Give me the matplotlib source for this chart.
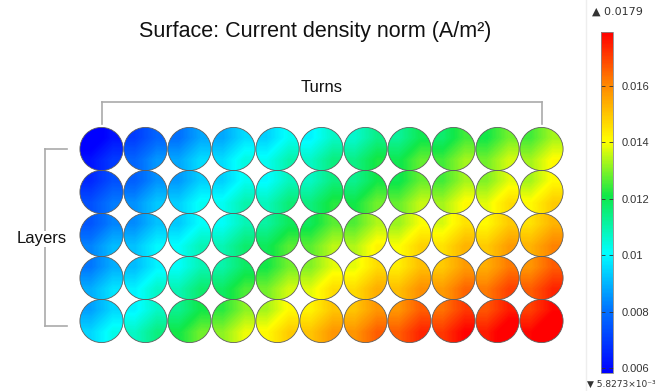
import matplotlib
matplotlib.use("Agg")
import matplotlib.pyplot as plt
from matplotlib.patches import Circle
from matplotlib.colors import Normalize, LinearSegmentedColormap
from matplotlib.cm import ScalarMappable

plt.rcParams['font.family'] = ['Liberation Sans', 'DejaVu Sans']

# current density at each conductor (rows = layers, cols = turns), A/m^2
layer_1 = [0.0062, 0.0078, 0.0088, 0.0096, 0.0102, 0.0107, 0.0114, 0.0120, 0.0125, 0.0129, 0.0133]
layer_2 = [0.0074, 0.0085, 0.0094, 0.0102, 0.0108, 0.0115, 0.0121, 0.0128, 0.0133, 0.0138, 0.0141]
layer_3 = [0.0083, 0.0092, 0.0101, 0.0109, 0.0119, 0.0127, 0.0134, 0.0140, 0.0145, 0.0149, 0.0153]
layer_4 = [0.0089, 0.0099, 0.0109, 0.0118, 0.0129, 0.0138, 0.0146, 0.0151, 0.0157, 0.0162, 0.0166]
layer_5 = [0.0095, 0.0107, 0.0121, 0.0131, 0.0141, 0.0150, 0.0158, 0.0166, 0.0171, 0.0175, 0.0178]
layers = [layer_1, layer_2, layer_3, layer_4, layer_5]

# variation across a single conductor (low at upper left, high at lower right)
spread = 0.0008

j_min = 0.0058273
j_max = 0.0179
cbar_ticks = [0.006, 0.008, 0.010, 0.012, 0.014, 0.016]
cbar_labels = ['0.006', '0.008', '0.01', '0.012', '0.014', '0.016']

# rainbow: pure blue -> cyan -> green -> yellow -> pure red
rainbow = LinearSegmentedColormap.from_list('rainbow_fem', [
    (0.00, '#0000ff'),
    (0.18, '#0070ff'),
    (0.35, '#00ffff'),
    (0.52, '#10e848'),
    (0.68, '#ffff00'),
    (0.84, '#ff8c00'),
    (1.00, '#ff0000'),
])

W, H = 656, 391
fig = plt.figure(figsize=(W / 100, H / 100), dpi=100)
ax = fig.add_axes([0, 0, 1, 1])
ax.set_xlim(0, W)
ax.set_ylim(H, 0)
ax.axis('off')

norm = Normalize(j_min, j_max)

x0, y0 = 101.5, 149
dx, dy = 44, 43
r = 21.6

for i, row in enumerate(layers):
    for k, j in enumerate(row):
        cx = x0 + k * dx
        cy = y0 + i * dy
        circ = Circle((cx, cy), r, facecolor='none', edgecolor='#5e5e5e', lw=0.6, zorder=3)
        ax.add_patch(circ)
        img = ax.imshow([[j - spread, j], [j, j + spread]], cmap=rainbow, norm=norm,
                        extent=(cx - r, cx + r, cy + r, cy - r), origin='upper',
                        interpolation='bilinear', zorder=2)
        img.set_clip_path(circ)

ax.set_xlim(0, W)
ax.set_ylim(H, 0)
ax.set_aspect('auto')

# title
ax.text(315, 31, 'Surface: Current density norm (A/m\u00b2)', ha='center', va='center',
        fontsize=15.5, color='#111111')

# turns bracket
gray = '#aaaaaa'
ax.plot([101.5, 541.5], [102, 102], color=gray, lw=1.2)
ax.plot([101.5, 101.5], [102, 124], color=gray, lw=1.2)
ax.plot([541.5, 541.5], [102, 124], color=gray, lw=1.2)
ax.text(322, 88, 'Turns', ha='center', va='center', fontsize=12, color='#111111')

# layers bracket
ax.plot([45, 45], [149, 326], color=gray, lw=1.2)
ax.plot([45, 67], [149, 149], color=gray, lw=1.2)
ax.plot([45, 67], [326, 326], color=gray, lw=1.2)
ax.text(42, 239, 'Layers', ha='center', va='center', fontsize=12, color='#111111',
        bbox=dict(facecolor='white', edgecolor='none', pad=0.5))

# separator before the colour legend
ax.plot([586, 586], [0, H], color='#eeeeee', lw=1)

# colour legend
cax = fig.add_axes([601 / W, 1 - 373 / H, 12 / W, (373 - 32) / H])
cb = fig.colorbar(ScalarMappable(norm=norm, cmap=rainbow), cax=cax)
cb.set_ticks(cbar_ticks)
cb.set_ticklabels(cbar_labels)
cb.outline.set_edgecolor('#888888')
cb.outline.set_linewidth(0.6)
cax.tick_params(axis='y', which='both', direction='in', length=3, width=0.6,
                color='#333333', labelsize=8, labelcolor='#333333', pad=6,
                left=True, right=True)

ax.text(592, 12, '\u25b2 ' + str(j_max), ha='left', va='center', fontsize=8,
        color='#333333', family=['DejaVu Sans'])
ax.text(587, 384, '\u25bc 5.8273\u00d710\u207b\u00b3', ha='left', va='center', fontsize=6.5,
        color='#333333', family=['DejaVu Sans'])

fig.savefig('out.png', dpi=100)
